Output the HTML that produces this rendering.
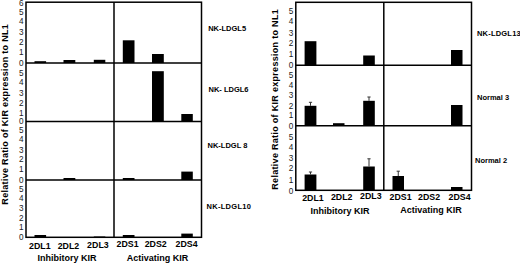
<!DOCTYPE html>
<html><head><meta charset="utf-8"><style>
html,body{margin:0;padding:0;background:#fff;}
svg{display:block;font-family:"Liberation Sans",sans-serif;}
</style></head><body>
<svg width="520" height="265" viewBox="0 0 520 265">
<rect x="26" y="2.2" width="175.5" height="235.10000000000002" fill="none" stroke="#000" stroke-width="1.5"/>
<line x1="114" y1="2.2" x2="114" y2="237.3" stroke="#000" stroke-width="1.5"/>
<line x1="26" y1="63" x2="201.5" y2="63" stroke="#000" stroke-width="1.5"/>
<line x1="26" y1="121.6" x2="201.5" y2="121.6" stroke="#000" stroke-width="1.5"/>
<line x1="26" y1="180" x2="201.5" y2="180" stroke="#000" stroke-width="1.5"/>
<rect x="295.8" y="2.3" width="175.7" height="188.0" fill="none" stroke="#000" stroke-width="1.5"/>
<line x1="383.8" y1="2.3" x2="383.8" y2="190.3" stroke="#000" stroke-width="1.5"/>
<line x1="295.8" y1="65.2" x2="471.5" y2="65.2" stroke="#000" stroke-width="1.5"/>
<line x1="295.8" y1="125.7" x2="471.5" y2="125.7" stroke="#000" stroke-width="1.5"/>
<rect x="34.5" y="61.20" width="11.60" height="1.80" fill="#000"/>
<rect x="63.5" y="60.00" width="11.80" height="3.00" fill="#000"/>
<rect x="93.8" y="59.80" width="11.50" height="3.20" fill="#000"/>
<rect x="122.8" y="40.30" width="11.70" height="22.70" fill="#000"/>
<rect x="152" y="54.00" width="11.80" height="9.00" fill="#000"/>
<rect x="152" y="71.20" width="11.80" height="50.40" fill="#000"/>
<rect x="181.3" y="114.00" width="11.50" height="7.60" fill="#000"/>
<rect x="63.5" y="178.00" width="11.80" height="2.00" fill="#000"/>
<rect x="122.8" y="178.00" width="11.70" height="2.00" fill="#000"/>
<rect x="181.3" y="171.60" width="11.50" height="8.40" fill="#000"/>
<rect x="34.5" y="235.00" width="11.60" height="2.30" fill="#000"/>
<rect x="93.8" y="236.50" width="11.50" height="0.80" fill="#000"/>
<rect x="122.8" y="235.00" width="11.70" height="2.30" fill="#000"/>
<rect x="181.3" y="233.60" width="11.50" height="3.70" fill="#000"/>
<rect x="304.6" y="41.20" width="11.80" height="24.00" fill="#000"/>
<rect x="363.2" y="55.50" width="11.60" height="9.70" fill="#000"/>
<rect x="451" y="50.00" width="11.50" height="15.20" fill="#000"/>
<rect x="304.6" y="105.80" width="11.80" height="19.90" fill="#000"/>
<line x1="310.5" y1="105.8" x2="310.5" y2="102.3" stroke="#333" stroke-width="1"/>
<line x1="308.9" y1="102.3" x2="312.1" y2="102.3" stroke="#333" stroke-width="1"/>
<rect x="333" y="123.20" width="11.50" height="2.50" fill="#000"/>
<rect x="363.2" y="100.80" width="11.60" height="24.90" fill="#000"/>
<line x1="369.0" y1="100.8" x2="369.0" y2="97" stroke="#333" stroke-width="1"/>
<line x1="367.4" y1="97" x2="370.6" y2="97" stroke="#333" stroke-width="1"/>
<rect x="451" y="105.00" width="11.50" height="20.70" fill="#000"/>
<rect x="304.6" y="174.50" width="11.80" height="15.80" fill="#000"/>
<line x1="310.5" y1="174.5" x2="310.5" y2="172" stroke="#333" stroke-width="1"/>
<line x1="308.9" y1="172" x2="312.1" y2="172" stroke="#333" stroke-width="1"/>
<rect x="363.2" y="166.50" width="11.60" height="23.80" fill="#000"/>
<line x1="369.0" y1="166.5" x2="369.0" y2="158.8" stroke="#333" stroke-width="1"/>
<line x1="367.4" y1="158.8" x2="370.6" y2="158.8" stroke="#333" stroke-width="1"/>
<rect x="392.5" y="176.00" width="11.50" height="14.30" fill="#000"/>
<line x1="398.25" y1="176" x2="398.25" y2="171.2" stroke="#333" stroke-width="1"/>
<line x1="396.65" y1="171.2" x2="399.85" y2="171.2" stroke="#333" stroke-width="1"/>
<rect x="451" y="187.00" width="11.50" height="3.30" fill="#000"/>
<text x="23.6" y="5.7" font-size="8.2" font-weight="normal" text-anchor="end" fill="#222" >6</text>
<text x="23.6" y="14.6" font-size="8.2" font-weight="normal" text-anchor="end" fill="#222" >5</text>
<text x="23.6" y="24.1" font-size="8.2" font-weight="normal" text-anchor="end" fill="#222" >4</text>
<text x="23.6" y="35.1" font-size="8.2" font-weight="normal" text-anchor="end" fill="#222" >3</text>
<text x="23.6" y="44.9" font-size="8.2" font-weight="normal" text-anchor="end" fill="#222" >2</text>
<text x="23.6" y="55.2" font-size="8.2" font-weight="normal" text-anchor="end" fill="#222" >1</text>
<text x="23.6" y="65.9" font-size="8.2" font-weight="normal" text-anchor="end" fill="#222" >0</text>
<text x="23.6" y="75.7" font-size="8.2" font-weight="normal" text-anchor="end" fill="#222" >5</text>
<text x="23.6" y="85.4" font-size="8.2" font-weight="normal" text-anchor="end" fill="#222" >4</text>
<text x="23.6" y="96.1" font-size="8.2" font-weight="normal" text-anchor="end" fill="#222" >3</text>
<text x="23.6" y="105.9" font-size="8.2" font-weight="normal" text-anchor="end" fill="#222" >2</text>
<text x="23.6" y="115.9" font-size="8.2" font-weight="normal" text-anchor="end" fill="#222" >1</text>
<text x="23.6" y="124.4" font-size="8.2" font-weight="normal" text-anchor="end" fill="#222" >0</text>
<text x="23.6" y="132.7" font-size="8.2" font-weight="normal" text-anchor="end" fill="#222" >5</text>
<text x="23.6" y="142.4" font-size="8.2" font-weight="normal" text-anchor="end" fill="#222" >4</text>
<text x="23.6" y="152.7" font-size="8.2" font-weight="normal" text-anchor="end" fill="#222" >3</text>
<text x="23.6" y="162.4" font-size="8.2" font-weight="normal" text-anchor="end" fill="#222" >2</text>
<text x="23.6" y="172.4" font-size="8.2" font-weight="normal" text-anchor="end" fill="#222" >1</text>
<text x="23.6" y="183.2" font-size="8.2" font-weight="normal" text-anchor="end" fill="#222" >0</text>
<text x="23.6" y="191.7" font-size="8.2" font-weight="normal" text-anchor="end" fill="#222" >5</text>
<text x="23.6" y="201.4" font-size="8.2" font-weight="normal" text-anchor="end" fill="#222" >4</text>
<text x="23.6" y="211.1" font-size="8.2" font-weight="normal" text-anchor="end" fill="#222" >3</text>
<text x="23.6" y="220.7" font-size="8.2" font-weight="normal" text-anchor="end" fill="#222" >2</text>
<text x="23.6" y="230.4" font-size="8.2" font-weight="normal" text-anchor="end" fill="#222" >1</text>
<text x="23.6" y="239.9" font-size="8.2" font-weight="normal" text-anchor="end" fill="#222" >0</text>
<text x="293.4" y="13.9" font-size="8.2" font-weight="normal" text-anchor="end" fill="#222" >5</text>
<text x="293.4" y="24.4" font-size="8.2" font-weight="normal" text-anchor="end" fill="#222" >4</text>
<text x="293.4" y="35.6" font-size="8.2" font-weight="normal" text-anchor="end" fill="#222" >3</text>
<text x="293.4" y="45.9" font-size="8.2" font-weight="normal" text-anchor="end" fill="#222" >2</text>
<text x="293.4" y="57.4" font-size="8.2" font-weight="normal" text-anchor="end" fill="#222" >1</text>
<text x="293.4" y="67.9" font-size="8.2" font-weight="normal" text-anchor="end" fill="#222" >0</text>
<text x="293.4" y="77.6" font-size="8.2" font-weight="normal" text-anchor="end" fill="#222" >5</text>
<text x="293.4" y="87.9" font-size="8.2" font-weight="normal" text-anchor="end" fill="#222" >4</text>
<text x="293.4" y="98.4" font-size="8.2" font-weight="normal" text-anchor="end" fill="#222" >3</text>
<text x="293.4" y="108.6" font-size="8.2" font-weight="normal" text-anchor="end" fill="#222" >2</text>
<text x="293.4" y="118.1" font-size="8.2" font-weight="normal" text-anchor="end" fill="#222" >1</text>
<text x="293.4" y="129.4" font-size="8.2" font-weight="normal" text-anchor="end" fill="#222" >0</text>
<text x="293.4" y="139.6" font-size="8.2" font-weight="normal" text-anchor="end" fill="#222" >5</text>
<text x="293.4" y="150.4" font-size="8.2" font-weight="normal" text-anchor="end" fill="#222" >4</text>
<text x="293.4" y="160.7" font-size="8.2" font-weight="normal" text-anchor="end" fill="#222" >3</text>
<text x="293.4" y="171.1" font-size="8.2" font-weight="normal" text-anchor="end" fill="#222" >2</text>
<text x="293.4" y="182.9" font-size="8.2" font-weight="normal" text-anchor="end" fill="#222" >1</text>
<text x="293.4" y="193.9" font-size="8.2" font-weight="normal" text-anchor="end" fill="#222" >0</text>
<text transform="translate(39.8,248.7) scale(0.9,1)" font-size="9.8" font-weight="bold" text-anchor="middle">2DL1</text>
<text transform="translate(68.5,248.5) scale(0.9,1)" font-size="9.8" font-weight="bold" text-anchor="middle">2DL2</text>
<text transform="translate(97.9,247.6) scale(0.9,1)" font-size="9.8" font-weight="bold" text-anchor="middle">2DL3</text>
<text transform="translate(127.5,247.3) scale(0.9,1)" font-size="9.8" font-weight="bold" text-anchor="middle">2DS1</text>
<text transform="translate(155.7,247.3) scale(0.9,1)" font-size="9.8" font-weight="bold" text-anchor="middle">2DS2</text>
<text transform="translate(186.5,247.3) scale(0.9,1)" font-size="9.8" font-weight="bold" text-anchor="middle">2DS4</text>
<text transform="translate(313,201) scale(0.9,1)" font-size="9.8" font-weight="bold" text-anchor="middle">2DL1</text>
<text transform="translate(341.7,200) scale(0.9,1)" font-size="9.8" font-weight="bold" text-anchor="middle">2DL2</text>
<text transform="translate(370.8,199) scale(0.9,1)" font-size="9.8" font-weight="bold" text-anchor="middle">2DL3</text>
<text transform="translate(400.6,199.5) scale(0.9,1)" font-size="9.8" font-weight="bold" text-anchor="middle">2DS1</text>
<text transform="translate(429,199.5) scale(0.9,1)" font-size="9.8" font-weight="bold" text-anchor="middle">2DS2</text>
<text transform="translate(459.6,199.5) scale(0.9,1)" font-size="9.8" font-weight="bold" text-anchor="middle">2DS4</text>
<text x="67" y="261.2" font-size="9" font-weight="bold" text-anchor="middle" fill="#000" >Inhibitory KIR</text>
<text x="157.5" y="260.7" font-size="9" font-weight="bold" text-anchor="middle" fill="#000" >Activating KIR</text>
<text x="340" y="213.6" font-size="9" font-weight="bold" text-anchor="middle" fill="#000" >Inhibitory KIR</text>
<text x="431" y="212.8" font-size="9" font-weight="bold" text-anchor="middle" fill="#000" >Activating KIR</text>
<text x="208.2" y="31.2" font-size="7.5" font-weight="bold" text-anchor="start" fill="#000" >NK-LDGL5</text>
<text x="208.5" y="92" font-size="7.5" font-weight="bold" text-anchor="start" fill="#000" >NK- LDGL6</text>
<text x="207.5" y="148" font-size="7.5" font-weight="bold" text-anchor="start" fill="#000" >NK-LDGL 8</text>
<text x="206.5" y="209" font-size="7.5" font-weight="bold" text-anchor="start" fill="#000" letter-spacing="0.3">NK-LDGL10</text>
<text x="477" y="36" font-size="7.5" font-weight="bold" text-anchor="start" fill="#000" letter-spacing="0.2">NK-LDGL13</text>
<text x="477" y="100" font-size="7.5" font-weight="bold" text-anchor="start" fill="#000" >Normal 3</text>
<text x="475" y="163" font-size="7.5" font-weight="bold" text-anchor="start" fill="#000" >Normal 2</text>
<text transform="translate(7.8,114.25) rotate(-90)" font-size="9" font-weight="bold" text-anchor="middle" letter-spacing="0.3">Relative Ratio of KIR expression to NL1</text>
<text transform="translate(278,99.35) rotate(-90)" font-size="9" font-weight="bold" text-anchor="middle" letter-spacing="0.3">Relative Ratio of KIR expression to NL1</text>
</svg>
</body></html>
